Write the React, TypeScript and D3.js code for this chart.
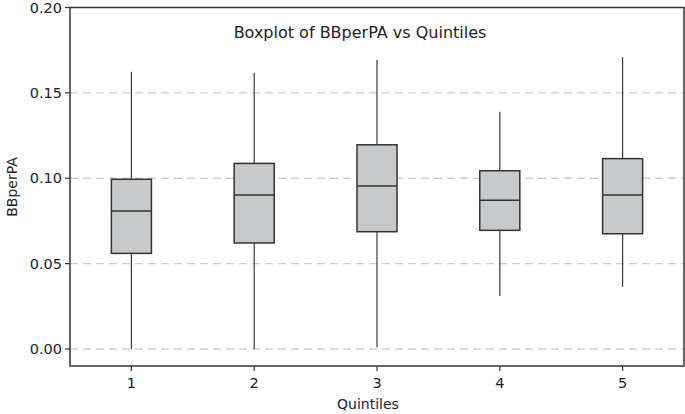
import * as d3 from 'd3';

// quintile groups and their box stats
const quintiles = ['1', '2', '3', '4', '5'];
const whiskerLow = [0.0, 0.0, 0.001, 0.031, 0.0365];
const q1 = [0.056, 0.0621, 0.0687, 0.0695, 0.0675];
const median = [0.0808, 0.0902, 0.0955, 0.0871, 0.0902];
const q3 = [0.0994, 0.1087, 0.1196, 0.1044, 0.1115];
const whiskerHigh = [0.1624, 0.1618, 0.1693, 0.139, 0.1708];
const yTicks = [0, 0.05, 0.1, 0.15, 0.2];

const width = 685;
const height = 414;
const margin = { top: 7.5, right: 1, bottom: 48, left: 70 };
const font = 'Tahoma, "DejaVu Sans", Verdana, sans-serif';

const App = () => {
  const innerW = width - margin.left - margin.right;
  const x = d3.scaleLinear().domain([0.5, 5.5]).range([margin.left, margin.left + innerW]);
  const y = d3.scaleLinear().domain([0, 0.2]).range([349, margin.top]);
  const bottom = 366;
  const boxHalf = 0.163;

  return (
    <svg width={width} height={height} style={{ position: 'absolute', left: 0, top: 0, background: 'white' }}>
      {/* grid */}
      {yTicks.slice(0, 4).map(t => (
        <line key={t} x1={margin.left} x2={x(5.5)} y1={y(t)} y2={y(t)}
          stroke="#cfcfcf" strokeWidth={1.3} strokeDasharray="8,5" />
      ))}

      {/* boxes */}
      {quintiles.map((q, i) => {
        const cx = x(i + 1);
        const l = x(i + 1 - boxHalf);
        const r = x(i + 1 + boxHalf);
        return (
          <g key={q}>
            <line x1={cx} x2={cx} y1={y(whiskerHigh[i])} y2={y(q3[i])} stroke="#3a3a3a" strokeWidth={1.2} />
            <line x1={cx} x2={cx} y1={y(q1[i])} y2={y(whiskerLow[i])} stroke="#3a3a3a" strokeWidth={1.2} />
            <rect x={l} y={y(q3[i])} width={r - l} height={y(q1[i]) - y(q3[i])}
              fill="#c8c9cb" stroke="#333" strokeWidth={1.5} />
            <line x1={l} x2={r} y1={y(median[i])} y2={y(median[i])} stroke="#333" strokeWidth={1.5} />
          </g>
        );
      })}

      {/* frame */}
      <rect x={margin.left} y={margin.top} width={x(5.5) - margin.left} height={bottom - margin.top}
        fill="none" stroke="#333" strokeWidth={1.5} />

      {/* y axis ticks */}
      {yTicks.map(t => (
        <g key={t}>
          <line x1={margin.left - 5} x2={margin.left} y1={y(t)} y2={y(t)} stroke="#333" strokeWidth={1.2} />
          <text x={margin.left - 8} y={y(t)} dy="0.35em" textAnchor="end" fontFamily={font} fontSize={14.5} fill="#222">
            {d3.format('.2f')(t)}
          </text>
        </g>
      ))}

      {/* x axis ticks */}
      {quintiles.map((q, i) => (
        <g key={q}>
          <line x1={x(i + 1)} x2={x(i + 1)} y1={bottom} y2={bottom + 5} stroke="#333" strokeWidth={1.2} />
          <text x={x(i + 1)} y={388} textAnchor="middle" fontFamily={font} fontSize={14.5} fill="#222">{q}</text>
        </g>
      ))}

      <text x={368} y={409} textAnchor="middle" fontFamily={font} fontSize={14} fill="#222">Quintiles</text>
      <text transform={`translate(17,187) rotate(-90)`} textAnchor="middle" fontFamily={font} fontSize={14} fill="#222">BBperPA</text>
      <text x={360} y={38} textAnchor="middle" fontFamily={font} fontSize={16} fill="#222">Boxplot of BBperPA vs Quintiles</text>
    </svg>
  );
};

export default App;
